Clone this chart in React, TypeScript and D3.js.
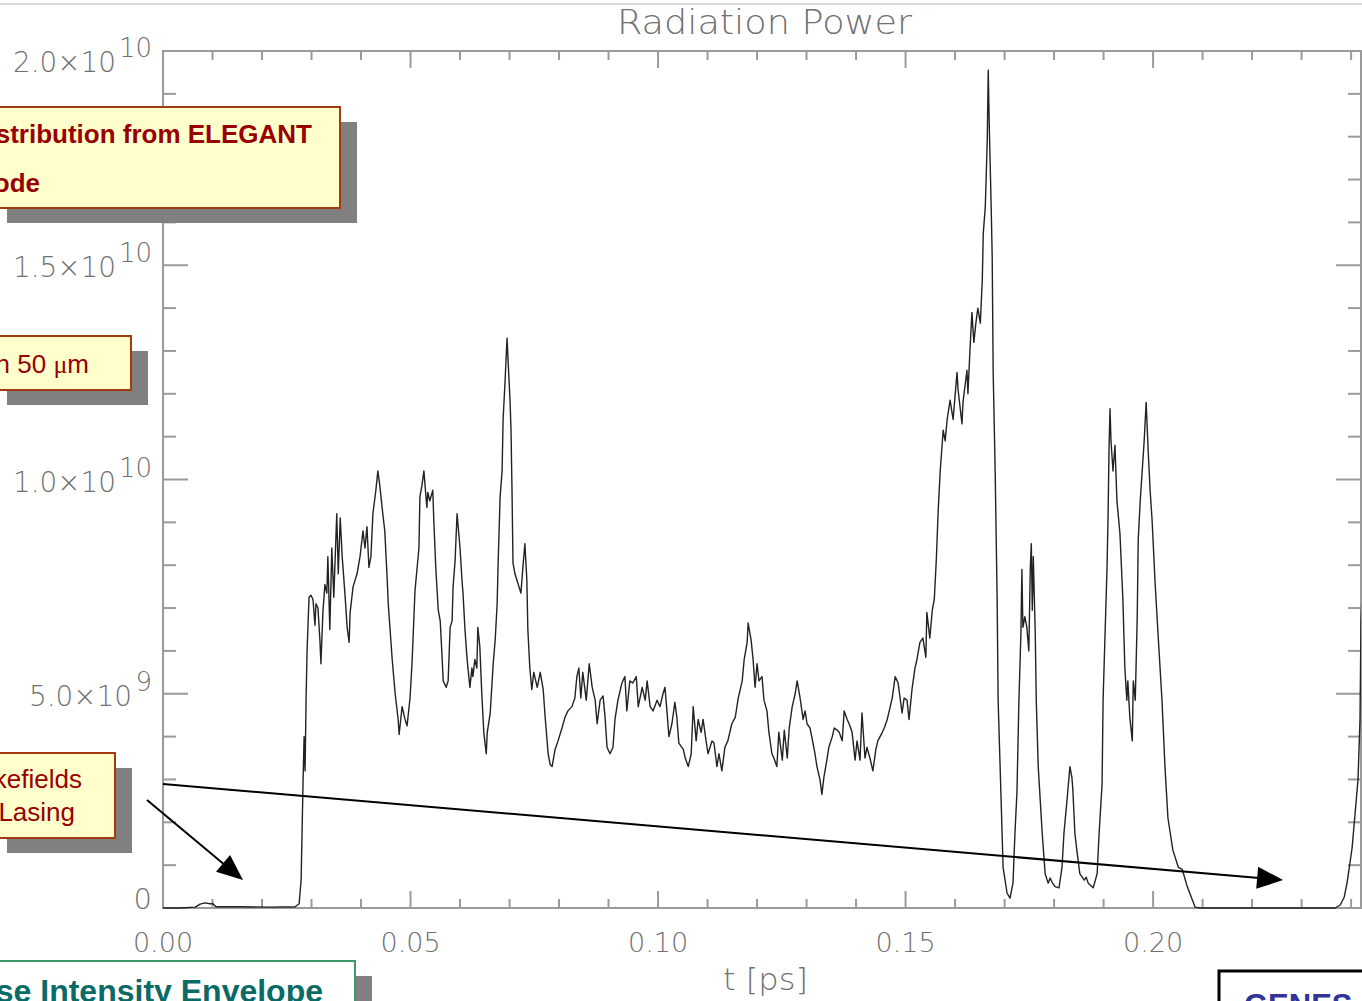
import React from 'react';
import * as d3 from 'd3';

const W = 1362;
const H = 1001;

// Radiation power along the bunch: [t (ps), P (10^9 W)]
const powerTrace: [number, number][] = [
  [0.0, 0.0], [0.0034, 0.0], [0.0065, 0.02], [0.0075, 0.09], [0.0085, 0.12], [0.0095, 0.1],
  [0.0101, 0.1], [0.0107, 0.03], [0.0156, 0.03], [0.0216, 0.02], [0.0267, 0.03], [0.0275, 0.1],
  [0.0279, 0.65], [0.0283, 3.0], [0.0285, 4.0], [0.0287, 3.2], [0.0289, 4.85], [0.0291, 6.0],
  [0.0295, 7.25], [0.0299, 7.3], [0.0303, 7.2], [0.0307, 6.6], [0.0309, 7.1], [0.0313, 7.0],
  [0.0317, 6.25], [0.0319, 5.7], [0.0323, 6.9], [0.0327, 7.55], [0.0331, 7.35], [0.0333, 8.2],
  [0.0337, 6.5], [0.0341, 8.4], [0.0345, 7.25], [0.0351, 9.2], [0.0354, 7.8], [0.0358, 9.1],
  [0.0362, 8.2], [0.0368, 7.25], [0.0372, 6.55], [0.0376, 6.2], [0.0378, 6.9], [0.0384, 7.5],
  [0.0392, 7.8], [0.0398, 8.2], [0.0404, 8.8], [0.0408, 8.4], [0.0412, 8.9], [0.0416, 7.95],
  [0.042, 8.2], [0.0424, 9.2], [0.043, 9.75], [0.0434, 10.2], [0.0438, 9.85], [0.0444, 9.2],
  [0.0448, 8.8], [0.0453, 7.65], [0.0455, 7.1], [0.0463, 5.8], [0.0469, 5.0], [0.0475, 4.4],
  [0.0477, 4.05], [0.0483, 4.7], [0.0489, 4.4], [0.0493, 4.25], [0.0499, 4.9], [0.0503, 5.7],
  [0.0509, 7.4], [0.0513, 7.9], [0.0517, 8.4], [0.0519, 9.6], [0.0523, 9.85], [0.0527, 10.2],
  [0.0533, 9.35], [0.0535, 9.7], [0.0539, 9.5], [0.0545, 9.75], [0.0547, 9.05], [0.0551, 7.95],
  [0.0556, 6.95], [0.056, 6.7], [0.0564, 5.8], [0.0566, 5.3], [0.0572, 5.15], [0.0576, 5.3],
  [0.058, 6.55], [0.0584, 6.7], [0.0586, 7.5], [0.059, 8.1], [0.0594, 9.2], [0.06, 8.4],
  [0.0604, 7.65], [0.0606, 7.35], [0.061, 6.5], [0.0614, 5.85], [0.0616, 5.6], [0.062, 5.15],
  [0.0624, 5.6], [0.0626, 5.4], [0.063, 5.8], [0.0634, 5.6], [0.0636, 6.55], [0.064, 6.1],
  [0.0644, 5.0], [0.0648, 4.1], [0.0653, 3.6], [0.0655, 4.1], [0.0661, 4.55], [0.0667, 5.7],
  [0.0671, 6.25], [0.0675, 7.1], [0.0677, 8.05], [0.0681, 9.6], [0.0685, 10.2], [0.0687, 11.4],
  [0.0691, 12.3], [0.0695, 13.3], [0.0697, 12.8], [0.0701, 11.85], [0.0703, 11.15], [0.0705, 9.75],
  [0.0707, 8.05], [0.0711, 7.8], [0.0715, 7.65], [0.0719, 7.5], [0.0723, 7.35], [0.0727, 7.95],
  [0.0731, 8.5], [0.0735, 7.65], [0.0737, 6.5], [0.0741, 5.6], [0.0745, 5.1], [0.0749, 5.5],
  [0.0756, 5.15], [0.0762, 5.5], [0.0768, 5.1], [0.0772, 4.45], [0.0778, 3.6], [0.0782, 3.35],
  [0.0786, 3.3], [0.0792, 3.7], [0.0798, 3.9], [0.0806, 4.2], [0.0812, 4.45], [0.0818, 4.6],
  [0.0826, 4.7], [0.0832, 4.9], [0.0836, 5.4], [0.084, 5.6], [0.0844, 4.9], [0.0848, 5.5],
  [0.0855, 4.85], [0.0861, 5.7], [0.0867, 5.15], [0.0873, 4.85], [0.0877, 4.3], [0.0883, 4.85],
  [0.0889, 4.95], [0.0893, 4.45], [0.0897, 3.75], [0.0903, 3.6], [0.0909, 3.75], [0.0913, 4.4],
  [0.0919, 4.85], [0.0927, 5.25], [0.0933, 5.4], [0.0937, 4.6], [0.0943, 5.3], [0.0949, 5.25],
  [0.0956, 5.4], [0.096, 4.7], [0.0968, 5.15], [0.0974, 4.85], [0.0978, 5.3], [0.0984, 4.7],
  [0.099, 4.6], [0.0998, 4.85], [0.1004, 4.7], [0.101, 5.0], [0.1014, 5.15], [0.1018, 4.6],
  [0.1022, 4.0], [0.1028, 4.3], [0.1034, 4.8], [0.1038, 4.45], [0.1042, 3.85], [0.1051, 3.7],
  [0.1055, 3.5], [0.1061, 3.3], [0.1067, 3.6], [0.1071, 4.7], [0.1077, 3.9], [0.1081, 4.4],
  [0.1087, 4.1], [0.1091, 4.4], [0.1097, 3.9], [0.1101, 3.6], [0.1109, 3.9], [0.1113, 3.85],
  [0.1119, 3.3], [0.1123, 3.6], [0.1129, 3.2], [0.1135, 3.75], [0.1141, 3.9], [0.1149, 4.3],
  [0.1156, 4.45], [0.1162, 4.9], [0.117, 5.3], [0.1174, 5.8], [0.118, 6.2], [0.1182, 6.65],
  [0.1188, 6.25], [0.1192, 5.8], [0.1196, 5.15], [0.12, 5.7], [0.1204, 5.3], [0.121, 5.4],
  [0.1214, 4.85], [0.122, 4.6], [0.1224, 4.1], [0.123, 3.6], [0.1234, 3.5], [0.124, 3.3],
  [0.1244, 4.1], [0.1251, 3.45], [0.1255, 4.15], [0.1261, 3.5], [0.1265, 4.2], [0.1271, 4.7],
  [0.1277, 5.0], [0.1281, 5.3], [0.1287, 4.9], [0.1293, 4.4], [0.1297, 4.6], [0.1301, 4.3],
  [0.1307, 4.2], [0.1313, 3.85], [0.1317, 3.6], [0.1321, 3.3], [0.1327, 3.0], [0.1331, 2.65],
  [0.1335, 3.05], [0.1341, 3.45], [0.1345, 3.75], [0.1352, 4.0], [0.1356, 4.2], [0.1362, 4.15],
  [0.1366, 4.1], [0.1372, 3.9], [0.1376, 4.6], [0.1382, 4.4], [0.1386, 4.3], [0.1392, 4.1],
  [0.1398, 3.45], [0.1402, 3.9], [0.1408, 3.45], [0.1412, 4.55], [0.1418, 3.5], [0.1422, 3.75],
  [0.1428, 3.5], [0.1434, 3.2], [0.144, 3.7], [0.1444, 3.9], [0.1453, 4.1], [0.1457, 4.2],
  [0.1463, 4.4], [0.1467, 4.6], [0.1473, 4.9], [0.1479, 5.4], [0.1485, 5.25], [0.1493, 4.55],
  [0.1497, 4.9], [0.1503, 4.85], [0.1507, 4.4], [0.1513, 5.1], [0.1519, 5.6], [0.1523, 5.8],
  [0.1529, 6.2], [0.1535, 6.3], [0.1541, 5.85], [0.1543, 6.9], [0.1549, 6.3], [0.1554, 6.95],
  [0.1558, 7.2], [0.1562, 8.1], [0.1566, 9.3], [0.157, 10.2], [0.1576, 11.15], [0.158, 10.9],
  [0.1584, 11.4], [0.159, 11.85], [0.1596, 11.4], [0.1604, 12.5], [0.1606, 12.1], [0.1614, 11.3],
  [0.1616, 11.8], [0.1624, 12.55], [0.1626, 12.0], [0.163, 13.0], [0.1634, 13.9], [0.1638, 13.2],
  [0.1642, 13.65], [0.1646, 14.0], [0.1651, 13.65], [0.1655, 14.65], [0.1657, 15.75], [0.1661, 16.35],
  [0.1665, 17.9], [0.1667, 19.55], [0.1669, 18.3], [0.1673, 16.35], [0.1675, 15.2], [0.1677, 12.5],
  [0.1681, 10.2], [0.1685, 7.2], [0.1687, 4.85], [0.1691, 3.3], [0.1695, 1.75], [0.1697, 0.95],
  [0.1705, 0.35], [0.1711, 0.23], [0.1717, 0.58], [0.1721, 1.75], [0.1725, 2.7], [0.1729, 4.85],
  [0.1733, 6.4], [0.1735, 7.9], [0.1737, 6.55], [0.1741, 6.8], [0.1745, 6.55], [0.1749, 6.0],
  [0.1752, 7.95], [0.1754, 8.5], [0.1756, 6.95], [0.1758, 8.2], [0.1762, 6.4], [0.1764, 4.85],
  [0.1768, 3.3], [0.1776, 1.75], [0.1782, 0.8], [0.1788, 0.58], [0.1792, 0.7], [0.1796, 0.6],
  [0.1802, 0.5], [0.181, 0.47], [0.1816, 0.95], [0.182, 1.75], [0.1826, 2.5], [0.1832, 3.3],
  [0.1836, 3.05], [0.1838, 2.75], [0.1842, 1.75], [0.1846, 1.35], [0.1852, 0.8], [0.1861, 0.65],
  [0.1865, 0.72], [0.1869, 0.58], [0.1879, 0.47], [0.1887, 0.8], [0.1891, 1.75], [0.1897, 2.9],
  [0.1899, 4.85], [0.1903, 6.4], [0.1907, 7.95], [0.1909, 9.1], [0.1911, 10.7], [0.1913, 11.65],
  [0.1915, 10.9], [0.1919, 10.2], [0.1923, 10.8], [0.1927, 9.5], [0.1933, 8.75], [0.1939, 7.2],
  [0.1943, 5.6], [0.1947, 4.85], [0.1949, 5.3], [0.1953, 4.45], [0.1958, 3.9], [0.196, 5.3],
  [0.1964, 4.85], [0.1968, 6.8], [0.197, 8.6], [0.1974, 9.5], [0.1978, 10.2], [0.1982, 10.9],
  [0.1986, 11.8], [0.199, 10.7], [0.1994, 9.75], [0.1998, 9.05], [0.2004, 7.6], [0.201, 6.4],
  [0.2018, 4.85], [0.2024, 3.3], [0.203, 2.1], [0.204, 1.35], [0.2051, 0.95], [0.2059, 0.9],
  [0.2069, 0.5], [0.2079, 0.2], [0.2085, 0.02], [0.2095, 0.0], [0.2368, 0.0], [0.2378, 0.07],
  [0.2386, 0.25], [0.2392, 0.6], [0.2402, 1.4], [0.2408, 2.2], [0.2414, 3.0], [0.2418, 4.4],
  [0.242, 6.7], [0.2424, 8.0],
];

const tDomain: [number, number] = [0, 0.242];
const pDomain: [number, number] = [0, 2e10];
const xMajorTicks = [0, 0.05, 0.1, 0.15, 0.2];
const xMinorTicks = d3.range(1, 25).map((i) => i / 100).filter((v) => Math.round(v * 100) % 5 !== 0);
const yMajorTicks = [0, 5e9, 1e10, 1.5e10, 2e10];
const yMinorTicks = d3.range(1, 20).map((i) => i * 1e9).filter((v) => Math.round(v / 1e9) % 5 !== 0);

const title = 'Radiation Power';
const xTitle = 't [ps]';

// Arrows drawn in data units: [t0, P0, t1, P1]
const arrows: [number, number, number, number][] = [
  [-0.00323, 2.52e9, 0.01616, 0.653e9],
  [0, 2.894e9, 0.22626, 0.653e9],
];

const PLOT = { left: 163, right: 1361, top: 51, bottom: 908 };
const AXIS_FONT = "'DejaVu Sans', 'Noto Sans', sans-serif";
const SLIDE_FONT = "'Liberation Sans', Arial, sans-serif";
const AXIS_GREY = '#9a9a9a';
const LABEL_GREY = '#707070';

function yLabelParts(v: number): { mant: string; exp: string } {
  if (v === 0) return { mant: '0', exp: '' };
  const e = Math.floor(Math.log10(v) + 1e-9);
  return { mant: (v / Math.pow(10, e)).toFixed(1) + '\u00d710', exp: String(e) };
}

function Arrow({ x1, y1, x2, y2 }: { x1: number; y1: number; x2: number; y2: number }) {
  const len = 26;
  const hw = 11;
  const dx = x2 - x1;
  const dy = y2 - y1;
  const d = Math.hypot(dx, dy);
  const ux = dx / d;
  const uy = dy / d;
  const bx = x2 - ux * len;
  const by = y2 - uy * len;
  const pts = [
    [x2, y2],
    [bx - uy * hw, by + ux * hw],
    [bx + uy * hw, by - ux * hw],
  ]
    .map((p) => p.join(','))
    .join(' ');
  return (
    <g>
      <line x1={x1} y1={y1} x2={bx + ux * 2} y2={by + uy * 2} stroke="#000" strokeWidth={2} />
      <polygon points={pts} fill="#000" />
    </g>
  );
}

function Callout({
  x, y, w, h, shadow, fill, stroke, strokeWidth = 2,
}: {
  x: number; y: number; w: number; h: number; shadow?: number; fill: string; stroke: string; strokeWidth?: number;
}) {
  return (
    <g>
      {shadow ? <rect x={x + shadow} y={y + shadow - 2} width={w} height={h} fill="#808080" /> : null}
      <rect x={x} y={y} width={w} height={h} fill={fill} stroke={stroke} strokeWidth={strokeWidth} />
    </g>
  );
}

export default function App() {
  const x = d3.scaleLinear().domain(tDomain).range([PLOT.left, PLOT.right]);
  const y = d3.scaleLinear().domain(pDomain).range([PLOT.bottom, PLOT.top]);

  const line = d3
    .line<[number, number]>()
    .x((d) => x(d[0]))
    .y((d) => y(d[1] * 1e9));

  const path = line(powerTrace) || '';

  return (
    <svg
      width={W}
      height={H}
      viewBox={`0 0 ${W} ${H}`}
      style={{ position: 'absolute', left: 0, top: 0, display: 'block', background: '#fff' }}
    >
      <defs>
        <clipPath id="plot-clip">
          <rect x={PLOT.left} y={PLOT.top - 2} width={PLOT.right - PLOT.left} height={PLOT.bottom - PLOT.top + 4} />
        </clipPath>
      </defs>
      <rect x={0} y={0} width={W} height={H} fill="#fff" />
      {/* slide rule along the top */}
      <line x1={0} y1={4} x2={W} y2={4} stroke="#d8d8d8" strokeWidth={2} />

      {/* title */}
      <text
        x={617}
        y={34}
        fontFamily={AXIS_FONT}
        fontWeight={200}
        fontSize={33}
        fill={LABEL_GREY}
        textLength={295}
        lengthAdjust="spacingAndGlyphs"
      >
        {title}
      </text>

      {/* frame */}
      <rect
        x={PLOT.left}
        y={PLOT.top}
        width={PLOT.right - PLOT.left}
        height={PLOT.bottom - PLOT.top}
        fill="none"
        stroke={AXIS_GREY}
        strokeWidth={2}
      />

      {/* x ticks: bottom and top */}
      {xMajorTicks.map((t) => (
        <g key={'xM' + t}>
          <line x1={x(t)} x2={x(t)} y1={PLOT.bottom} y2={PLOT.bottom - 17} stroke={AXIS_GREY} strokeWidth={2} />
          <line x1={x(t)} x2={x(t)} y1={PLOT.top} y2={PLOT.top + 17} stroke={AXIS_GREY} strokeWidth={2} />
          <text
            x={x(t)}
            y={952}
            textAnchor="middle"
            fontFamily={AXIS_FONT}
            fontWeight={200}
            fontSize={27}
            fill={LABEL_GREY}
          >
            {d3.format('.2f')(t)}
          </text>
        </g>
      ))}
      {xMinorTicks.map((t) => (
        <g key={'xm' + t}>
          <line x1={x(t)} x2={x(t)} y1={PLOT.bottom} y2={PLOT.bottom - 9} stroke={AXIS_GREY} strokeWidth={2} />
          <line x1={x(t)} x2={x(t)} y1={PLOT.top} y2={PLOT.top + 9} stroke={AXIS_GREY} strokeWidth={2} />
        </g>
      ))}

      {/* y ticks: left and right */}
      {yMajorTicks.map((v) => {
        const { mant, exp } = yLabelParts(v);
        const base = Math.min(Math.max(y(v) + 12, PLOT.top + 21), PLOT.bottom + 1);
        const expW = exp.length * 16;
        return (
          <g key={'yM' + v}>
            <line x1={PLOT.left} x2={PLOT.left + 25} y1={y(v)} y2={y(v)} stroke={AXIS_GREY} strokeWidth={2} />
            <line x1={PLOT.right} x2={PLOT.right - 25} y1={y(v)} y2={y(v)} stroke={AXIS_GREY} strokeWidth={2} />
            {exp ? (
              <>
                <text
                  x={152 - expW - 4}
                  y={base}
                  textAnchor="end"
                  fontFamily={AXIS_FONT}
                  fontWeight={200}
                  fontSize={29}
                  fill={LABEL_GREY}
                  textLength={103}
                  lengthAdjust="spacingAndGlyphs"
                >
                  {mant}
                </text>
                <text
                  x={152}
                  y={base - 15}
                  textAnchor="end"
                  fontFamily={AXIS_FONT}
                  fontWeight={200}
                  fontSize={26}
                  fill={LABEL_GREY}
                >
                  {exp}
                </text>
              </>
            ) : (
              <text
                x={152}
                y={base}
                textAnchor="end"
                fontFamily={AXIS_FONT}
                fontWeight={200}
                fontSize={29}
                fill={LABEL_GREY}
              >
                {mant}
              </text>
            )}
          </g>
        );
      })}
      {yMinorTicks.map((v) => (
        <g key={'ym' + v}>
          <line x1={PLOT.left} x2={PLOT.left + 13} y1={y(v)} y2={y(v)} stroke={AXIS_GREY} strokeWidth={2} />
          <line x1={PLOT.right} x2={PLOT.right - 13} y1={y(v)} y2={y(v)} stroke={AXIS_GREY} strokeWidth={2} />
        </g>
      ))}

      {/* x axis title */}
      <text
        x={723}
        y={990}
        fontFamily={AXIS_FONT}
        fontWeight={200}
        fontSize={30}
        fill={LABEL_GREY}
        textLength={85}
        lengthAdjust="spacingAndGlyphs"
      >
        {xTitle}
      </text>

      {/* power trace */}
      <path
        d={path}
        fill="none"
        stroke="#222"
        strokeWidth={1.4}
        strokeLinejoin="round"
        clipPath="url(#plot-clip)"
      />

      {/* callouts */}
      <Callout x={-10} y={107} w={350} h={101} shadow={17} fill="#ffffcc" stroke="#a33a10" />
      <text x={312} y={143} textAnchor="end" fontFamily={SLIDE_FONT} fontWeight={700} fontSize={26} fill="#990000">
        stribution from ELEGANT
      </text>
      <text x={40} y={192} textAnchor="end" fontFamily={SLIDE_FONT} fontWeight={700} fontSize={26} fill="#990000">
        ode
      </text>

      <Callout x={-10} y={336} w={141} h={54} shadow={17} fill="#ffffcc" stroke="#a33a10" />
      <text x={89} y={373} textAnchor="end" fontFamily={SLIDE_FONT} fontSize={26} fill="#990000">
        n 50 <tspan fontFamily="'Liberation Serif', 'DejaVu Serif', serif">μ</tspan>m
      </text>

      <Callout x={-10} y={753} w={125} h={85} shadow={17} fill="#ffffcc" stroke="#a33a10" />
      <text x={82} y={788} textAnchor="end" fontFamily={SLIDE_FONT} fontSize={26} fill="#990000">
        kefields
      </text>
      <text x={75} y={821} textAnchor="end" fontFamily={SLIDE_FONT} fontSize={26} fill="#990000">
        Lasing
      </text>

      <Callout x={-10} y={961} w={365} h={60} shadow={17} fill="#ffffff" stroke="#3a9a6a" />
      <text x={323} y={1002} textAnchor="end" fontFamily={SLIDE_FONT} fontWeight={700} fontSize={32} fill="#0a6b66">
        se Intensity Envelope
      </text>

      <Callout x={1219} y={971} w={200} h={60} fill="#ffffff" stroke="#000000" strokeWidth={3} />
      <text x={1244} y={1016} fontFamily={SLIDE_FONT} fontWeight={700} fontSize={31} fill="#333399">
        GENES
      </text>

      {/* arrows */}
      {arrows.map(([t0, p0, t1, p1], i) => (
        <Arrow key={i} x1={x(t0)} y1={y(p0)} x2={x(t1)} y2={y(p1)} />
      ))}
    </svg>
  );
}
